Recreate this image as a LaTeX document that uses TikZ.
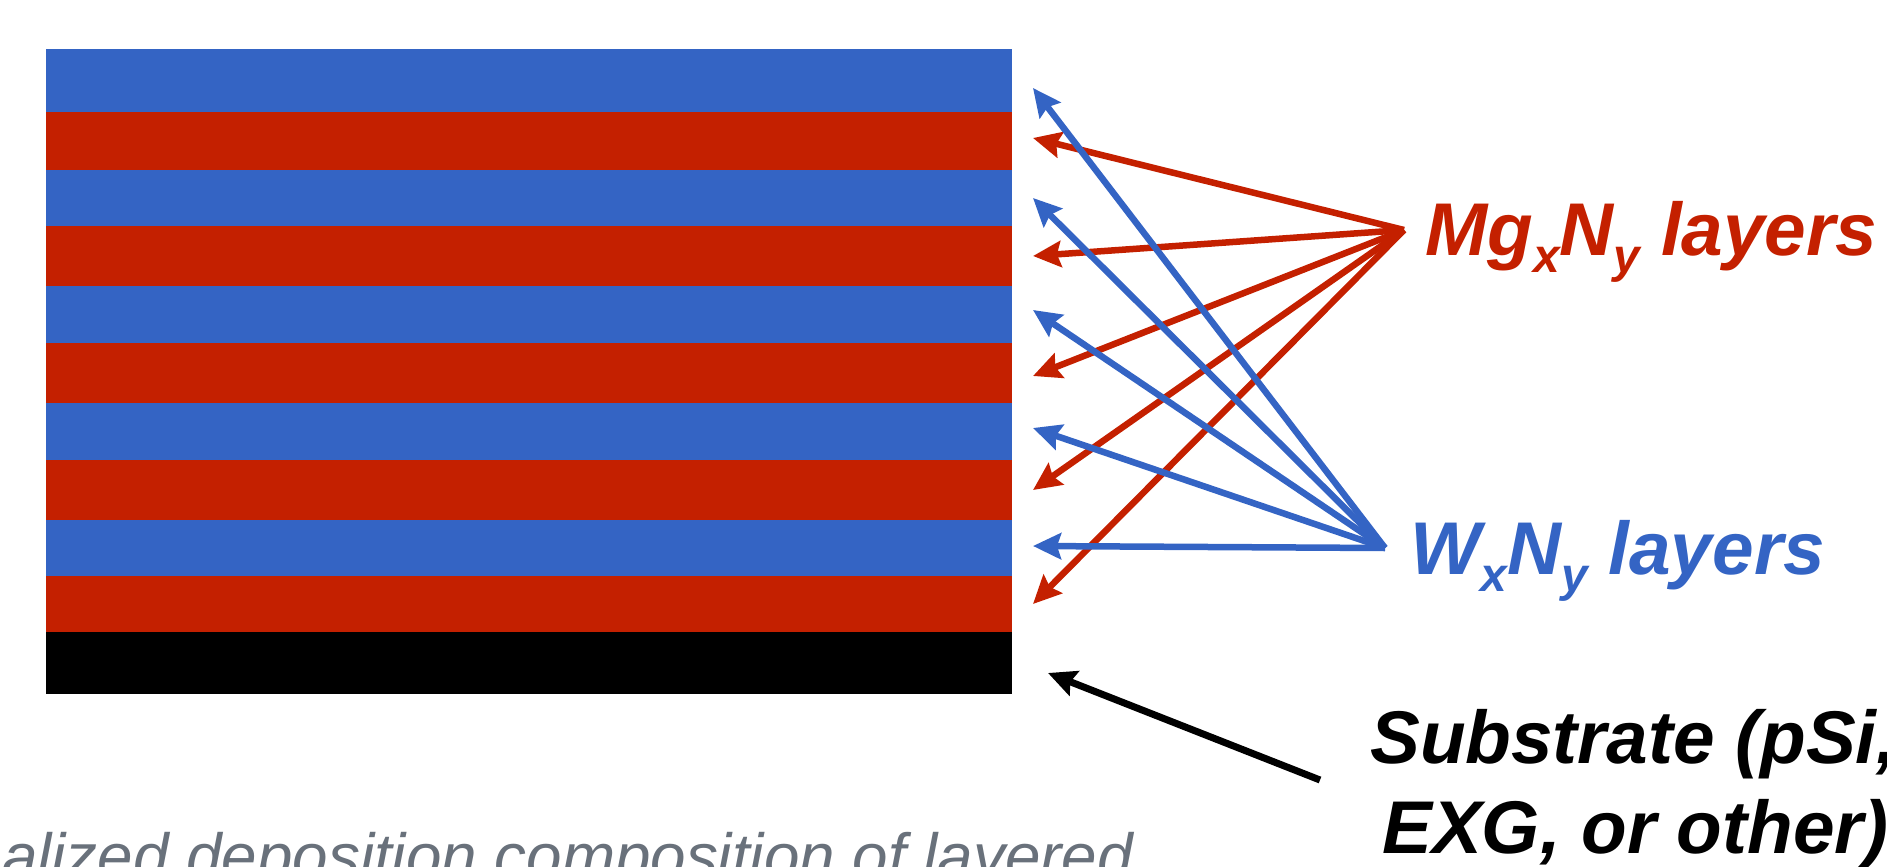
\documentclass[tikz,border=0pt]{standalone}
\usepackage{fontspec}
\setmainfont{Liberation Sans}
\usetikzlibrary{arrows.meta}
\definecolor{lblue}{RGB}{52,100,196}
\definecolor{lred}{RGB}{196,32,0}
\definecolor{capgray}{RGB}{105,113,123}
\newcommand\lsub[1]{\raisebox{-0.24em}{\fontsize{48}{50}\selectfont #1}}
\tikzset{
  ptr/.style={line width=6.5bp, -{Stealth[length=28bp,width=26bp,inset=4bp]}},
  lbl/.style={anchor=base west, inner sep=0pt, font=\fontsize{75}{90}\selectfont\bfseries\itshape}
}
\begin{document}
\begin{tikzpicture}[x=1bp,y=-1bp]
\useasboundingbox (0,0) rectangle (1887,867);
\clip (0,0) rectangle (1887,867);
% layer stack
\fill[lblue] (46,49) rectangle (1012,112);
\fill[lred]  (46,112) rectangle (1012,170);
\fill[lblue] (46,170) rectangle (1012,226);
\fill[lred]  (46,226) rectangle (1012,286);
\fill[lblue] (46,286) rectangle (1012,343);
\fill[lred]  (46,343) rectangle (1012,403);
\fill[lblue] (46,403) rectangle (1012,460);
\fill[lred]  (46,460) rectangle (1012,520);
\fill[lblue] (46,520) rectangle (1012,576);
\fill[lred]  (46,576) rectangle (1012,632);
\fill[black] (46,632) rectangle (1012,694);
% labels
\node[lbl, text=lred] (mg) at (1425,255) {Mg\lsub{x}N\lsub{y} layers};
\node[lbl, text=lblue] (w) at (1410,574) {W\lsub{x}N\lsub{y} layers};
\node[lbl, text=black] (sub1) at (1370,763) {Substrate (pSi,};
\node[lbl, text=black] (sub2) at (1382,853) {EXG, or other)};
\node[anchor=base west, inner sep=0pt, text=capgray, font=\fontsize{64}{70}\selectfont\itshape] (cap) at (2,878) {alized deposition composition of layered};
% arrow sources and tips
\coordinate (mgsrc) at (1404,230);
\coordinate (wsrc) at (1385,548);
\coordinate (b1) at (1033,88);
\coordinate (b2) at (1033,198);
\coordinate (b3) at (1033,310);
\coordinate (b4) at (1033,428);
\coordinate (b5) at (1033,546);
\coordinate (r1) at (1033,138);
\coordinate (r2) at (1033,256);
\coordinate (r3) at (1033,376);
\coordinate (r4) at (1033,490);
\coordinate (r5) at (1033,604);
\coordinate (subsrc) at (1320,780);
\coordinate (subtip) at (1048,673);
% red arrows
\foreach \t in {r1,r2,r3,r4,r5}{\draw[ptr, lred] (mgsrc) -- (\t);}
% blue arrows
\foreach \t in {b1,b2,b3,b4,b5}{\draw[ptr, lblue] (wsrc) -- (\t);}
% substrate arrow
\draw[ptr, black, line width=7bp] (subsrc) -- (subtip);
\end{tikzpicture}
\end{document}
